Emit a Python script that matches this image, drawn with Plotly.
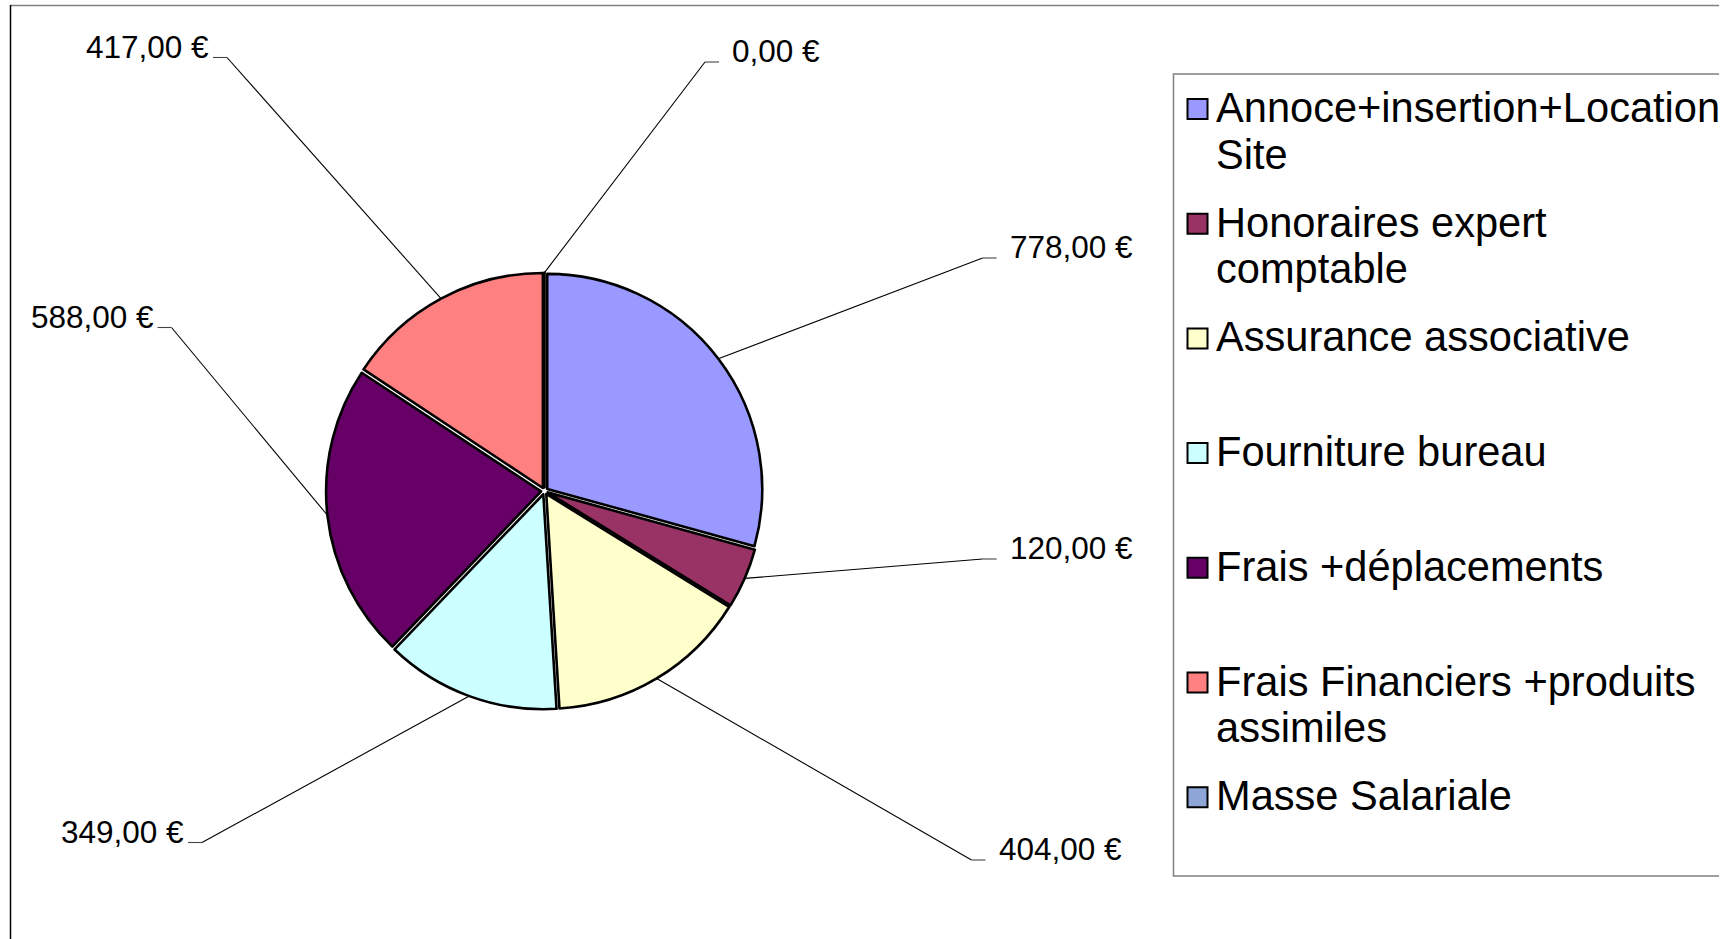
import math
import textwrap
import plotly.graph_objects as go

# ---------------- data ----------------
CATEGORIES = [
    "Annoce+insertion+Location Site",
    "Honoraires expert comptable",
    "Assurance associative",
    "Fourniture bureau",
    "Frais +déplacements",
    "Frais Financiers +produits assimiles",
    "Masse Salariale",
]
VALUES = [778, 120, 404, 349, 588, 417, 0]
COLORS = ["#9999FF", "#993366", "#FFFFCC", "#CCFFFF", "#660066", "#FF8080", "#8EA5D7"]


def euro(v):
    s = f"{v:,.2f}".replace(",", " ").replace(".", ",")
    return s + " €"


VALUE_LABELS = [euro(v) for v in VALUES]

# ---------------- layout constants (page pixels) ----------------
W, H = 1735, 939
CX, CY, R = 544.5, 491.0, 215.0
PULL = 0.016
# elbow points of the label leader lines (label placement)
ELBOWS = [(982.6, 258.0), (982.6, 559.0), (971.5, 860.0), (202.0, 842.5),
          (171.5, 327.5), (227.0, 57.5), (705.0, 62.0)]
FONT = "Liberation Sans"
LABEL_SIZE = 31.5
LEGEND_SIZE = 41.6


def px(x):
    return x / W


def py(y):
    return 1 - y / H


half = R * (1 + PULL)
fig = go.Figure()
fig.add_trace(go.Pie(
    labels=CATEGORIES,
    values=VALUES,
    sort=False,
    direction="clockwise",
    rotation=0,
    pull=PULL,
    textinfo="none",
    hoverinfo="label+value",
    showlegend=False,
    marker=dict(colors=COLORS, line=dict(color="black", width=2.6)),
    domain=dict(x=[px(CX - half), px(CX + half)], y=[py(CY + half), py(CY - half)]),
))

shapes = []
annotations = []

# leader lines + value labels
total = sum(VALUES)
cum = 0.0
for v, lab, (ex, ey) in zip(VALUES, VALUE_LABELS, ELBOWS):
    mid = (cum + v / 2) / total * 2 * math.pi
    cum += v
    ax = CX + R * (1 + PULL) * math.sin(mid)
    ay = CY - R * (1 + PULL) * math.cos(mid)
    right = ex > CX
    hx = ex + 14 if right else ex - 14
    shapes.append(dict(type="line", xref="paper", yref="paper",
                       x0=px(ax), y0=py(ay), x1=px(ex), y1=py(ey),
                       line=dict(color="black", width=1.1)))
    shapes.append(dict(type="line", xref="paper", yref="paper",
                       x0=px(ex), y0=py(ey), x1=px(hx), y1=py(ey),
                       line=dict(color="#444444", width=1.1)))
    annotations.append(dict(
        xref="paper", yref="paper",
        x=px(ex + 25 if right else ex - 16), y=py(ey - 11),
        xanchor="left" if right else "right", yanchor="middle",
        text=lab, showarrow=False,
        font=dict(family=FONT, size=LABEL_SIZE, color="black"),
    ))

# frame borders
shapes.append(dict(type="line", xref="paper", yref="paper",
                   x0=px(10), y0=py(5.5), x1=px(1719), y1=py(5.5),
                   line=dict(color="#808080", width=1.5)))
shapes.append(dict(type="line", xref="paper", yref="paper",
                   x0=px(10.5), y0=py(5), x1=px(10.5), y1=py(945),
                   line=dict(color="black", width=1.5)))

# legend box (right side cut off)
LX0, LY0, LX1, LY1 = 1173.5, 74.0, 1719.0, 876.0
shapes.append(dict(type="path", xref="paper", yref="paper",
                   path=f"M {px(LX1)},{py(LY0)} L {px(LX0)},{py(LY0)} "
                        f"L {px(LX0)},{py(LY1)} L {px(LX1)},{py(LY1)}",
                   line=dict(color="#808080", width=1.5)))

ENTRY_Y0, ENTRY_STEP, LINE_STEP = 107.5, 114.7, 46.5
for i, (cat, col) in enumerate(zip(CATEGORIES, COLORS)):
    yc = ENTRY_Y0 + i * ENTRY_STEP
    shapes.append(dict(type="rect", xref="paper", yref="paper",
                       x0=px(1187.5), x1=px(1207.5), y0=py(yc + 11.5), y1=py(yc - 8.5),
                       fillcolor=col, line=dict(color="black", width=2)))
    for j, line in enumerate(textwrap.wrap(cat, 26)):
        annotations.append(dict(
            xref="paper", yref="paper",
            x=px(1214), y=py(yc + j * LINE_STEP),
            xanchor="left", yanchor="middle",
            text=line, showarrow=False,
            font=dict(family=FONT, size=LEGEND_SIZE, color="black"),
        ))

fig.update_layout(
    width=W, height=H,
    margin=dict(l=0, r=0, t=0, b=0),
    paper_bgcolor="white",
    plot_bgcolor="white",
    showlegend=False,
    shapes=shapes,
    annotations=annotations,
)

fig.write_html(
    "out.html",
    config={"displayModeBar": False},
    post_script="document.body.style.margin='0';document.body.style.overflow='hidden';",
)
